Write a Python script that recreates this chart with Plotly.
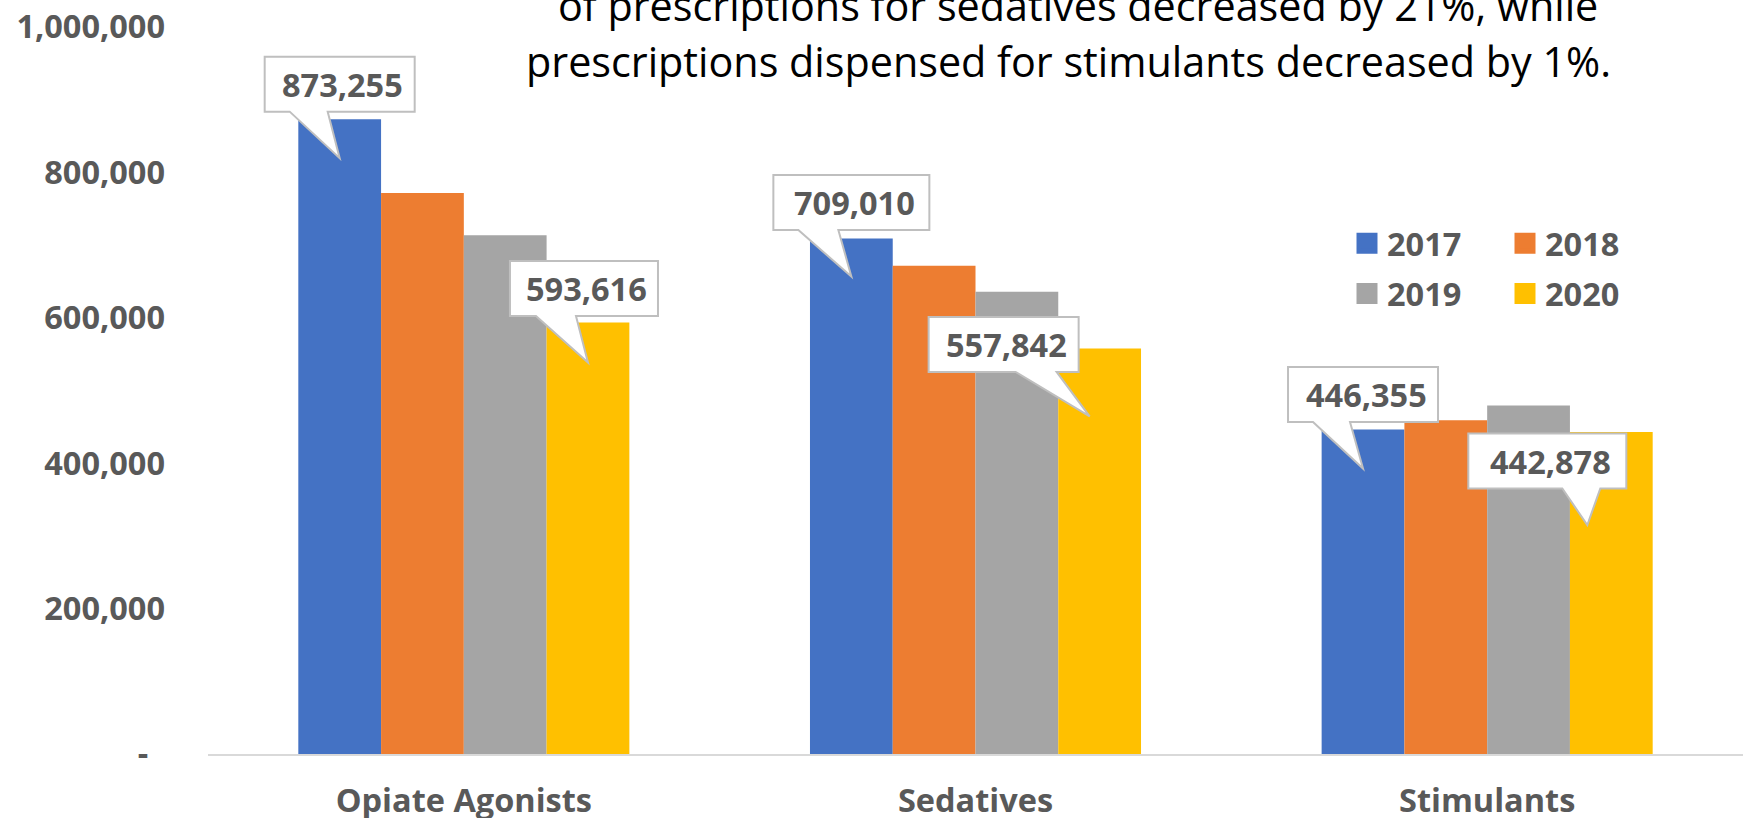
import plotly.graph_objects as go

# ---- data -------------------------------------------------------------
categories = ["Opiate Agonists", "Sedatives", "Stimulants"]
years = ["2017", "2018", "2019", "2020"]
rx_2017 = [873255, 709010, 446355]
rx_2018 = [771500, 671500, 459000]
rx_2019 = [713500, 636000, 479400]
rx_2020 = [593616, 557842, 442878]
y_ticks = [0, 200000, 400000, 600000, 800000, 1000000]
headline = [
    "of prescriptions for sedatives decreased by 21%, while",
    "prescriptions dispensed for stimulants decreased by 1%.",
]

series = [rx_2017, rx_2018, rx_2019, rx_2020]
colors = ["#4472C4", "#ED7D31", "#A5A5A5", "#FFC000"]
GREY_TXT = "#595959"
FONT = "Open Sans"
BOLD_SIZE = 32.5

W, H = 1743, 818
M_L, M_R, M_T, M_B = 208, 0, 27, 64
BARGAP = 0.353

fig = go.Figure()
for name, vals, col in zip(years, series, colors):
    fig.add_trace(go.Bar(x=categories, y=vals, name=name, marker_color=col,
                         marker_line_width=0, showlegend=False))

# legend swatches: two columns (2017/2019 and 2018/2020)
for i, (name, col) in enumerate(zip(years, colors)):
    fig.add_trace(go.Scatter(x=[None], y=[None], mode="markers", name=name,
                             legend="legend" if i % 2 == 0 else "legend2",
                             legendgroup=name,
                             marker=dict(symbol="square", size=16, color=col,
                                         line=dict(color=col, width=5))))

# ---- callouts for the first and last year of each group ---------------
# offsets in screen pixels (right / down) relative to the bar's top centre
callouts = [
    # (series idx, category idx, box cx, box cy, box w, box h, wedge l, wedge r, tip x, tip y)
    (0, 0, 0, -35, 150, 55, -50, -12, 0, 39),
    (3, 0, -4, -34, 148, 55, -48, -8, 0, 40),
    (0, 1, 0, -36, 156, 55, -53, -13, 0, 38),
    (3, 1, -96, -4, 150, 55, 12, 53, -10, 68),
    (0, 2, 0, -35, 150, 55, -50, -13, 0, 39),
    (3, 2, -64, 29, 158, 55, 15, 53, -24, 93),
]

n = len(years)
group_w = 1 - BARGAP
bar_w = group_w / n


def bar_x(si, ci):
    return ci + (si - (n - 1) / 2) * bar_w


for si, ci, bcx, bcy, bw, bh, wl, wr, tx, ty in callouts:
    xa = bar_x(si, ci)
    ya = series[si][ci]
    l, r = bcx - bw / 2, bcx + bw / 2
    t, b = bcy - bh / 2, bcy + bh / 2
    pts = [(l, t), (r, t), (r, b), (bcx + wr, b), (tx, ty), (bcx + wl, b), (l, b)]
    # pixel-mode paths use an upward y direction
    path = "M" + " L".join(f"{px:.1f},{-py:.1f}" for px, py in pts) + " Z"
    fig.add_shape(type="path", xref="x", yref="y", xsizemode="pixel", ysizemode="pixel",
                  xanchor=xa, yanchor=ya, path=path, fillcolor="white",
                  line=dict(color="#BFBFBF", width=2), layer="above")
    fig.add_annotation(x=xa, y=ya, xref="x", yref="y", text=f"{ya:,}", showarrow=False,
                       xanchor="center", yanchor="middle", xshift=bcx + 3, yshift=-bcy,
                       font=dict(family=FONT, size=BOLD_SIZE, color=GREY_TXT, weight="bold"))

# ---- headline text (runs off the top edge) -----------------------------
plot_w = W - M_L - M_R
plot_h = H - M_T - M_B


def paper_x(px):
    return (px - M_L) / plot_w


def paper_y(py):
    return 1 - (py - M_T) / plot_h


for line, cx, shift in zip(headline, [1078, 1068], [22, -34]):
    fig.add_annotation(x=paper_x(cx), y=1, xref="paper", yref="paper", text=line,
                       showarrow=False, xanchor="center", yanchor="middle", yshift=shift,
                       font=dict(family=FONT, size=41.3, color="black"))

tick_text = [f"{v:,}" if v else "-\u00a0\u00a0" for v in y_ticks]

legend_style = dict(orientation="v", yanchor="top", xanchor="left", y=paper_y(215.5),
                    bgcolor="rgba(0,0,0,0)", tracegroupgap=5, traceorder="grouped",
                    font=dict(family=FONT, size=BOLD_SIZE, color=GREY_TXT, weight="bold"))

fig.update_layout(
    width=W, height=H,
    margin=dict(l=M_L, r=M_R, t=M_T, b=M_B, pad=0),
    paper_bgcolor="white", plot_bgcolor="white",
    barmode="group", bargap=BARGAP, bargroupgap=0,
    font=dict(family=FONT, color=GREY_TXT),
    legend=dict(x=paper_x(1347), **legend_style),
    legend2=dict(x=paper_x(1505), **legend_style),
    xaxis=dict(type="category", range=[-0.5, 2.5], showline=True, linecolor="#D9D9D9",
               linewidth=2, ticks="", showgrid=False, zeroline=False, ticklabelstandoff=17,
               automargin=False,
               tickfont=dict(family=FONT, size=BOLD_SIZE, color=GREY_TXT, weight="bold")),
    yaxis=dict(range=[0, 1000000], tickmode="array", tickvals=y_ticks, ticktext=tick_text,
               showgrid=False, zeroline=False, showline=False, ticks="", ticklabelstandoff=42,
               automargin=False,
               tickfont=dict(family=FONT, size=BOLD_SIZE, color=GREY_TXT, weight="bold")),
)

fig.write_html("out.html")
